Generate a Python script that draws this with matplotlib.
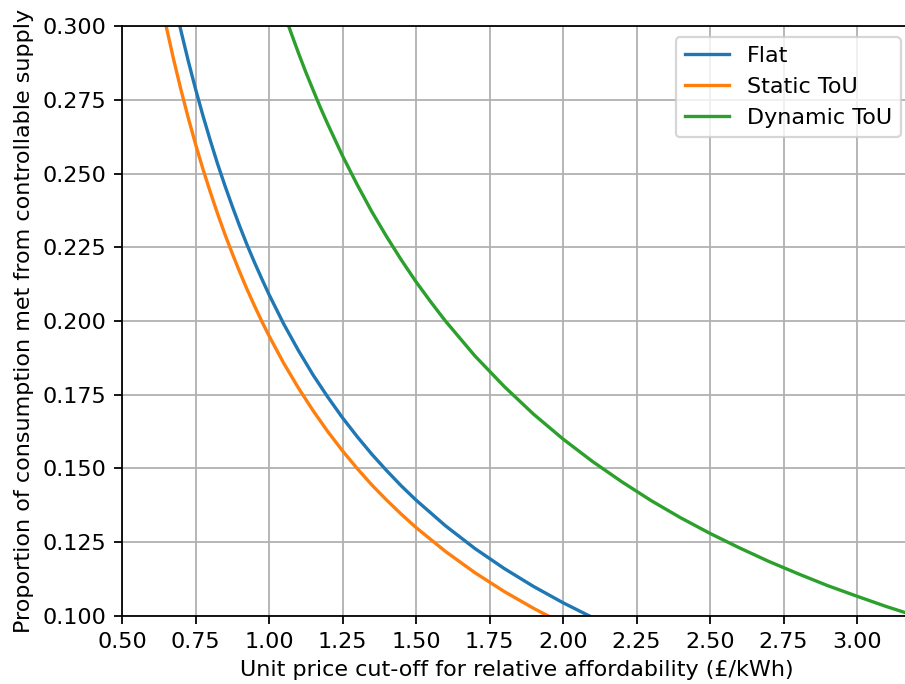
import matplotlib
matplotlib.use("Agg")
import matplotlib.pyplot as plt

# values
flat_x = [0.69, 0.70, 0.725, 0.75, 0.775, 0.80, 0.825, 0.85, 0.875, 0.90, 0.925, 0.95, 0.975, 1.00, 1.05, 1.10, 1.15,
          1.20, 1.25, 1.30, 1.35, 1.40, 1.45, 1.50, 1.60, 1.70, 1.80, 1.90, 2.00, 2.09]
flat_y = [0.3029, 0.2986, 0.2883, 0.2787, 0.2697, 0.2613, 0.2533, 0.2459, 0.2389, 0.2322, 0.2259, 0.2200, 0.2144,
          0.2090, 0.1990, 0.1900, 0.1817, 0.1742, 0.1672, 0.1608, 0.1548, 0.1493, 0.1441, 0.1393, 0.1306, 0.1229,
          0.1161, 0.1100, 0.1045, 0.1000]

static_x = [0.64, 0.65, 0.675, 0.70, 0.725, 0.75, 0.775, 0.80, 0.825, 0.85, 0.875, 0.90, 0.925, 0.95, 0.975, 1.00,
            1.05, 1.10, 1.15, 1.20, 1.25, 1.30, 1.35, 1.40, 1.45, 1.50, 1.60, 1.70, 1.80, 1.90, 1.95]
static_y = [0.3047, 0.3000, 0.2889, 0.2786, 0.2690, 0.2600, 0.2516, 0.2438, 0.2364, 0.2294, 0.2229, 0.2167, 0.2108,
            0.2053, 0.2000, 0.1950, 0.1857, 0.1773, 0.1696, 0.1625, 0.1560, 0.1500, 0.1444, 0.1393, 0.1345, 0.1300,
            0.1219, 0.1147, 0.1083, 0.1026, 0.1000]

dynamic_x = [1.05, 1.075, 1.10, 1.125, 1.15, 1.175, 1.20, 1.25, 1.30, 1.35, 1.40, 1.45, 1.50, 1.55, 1.60, 1.70, 1.80,
             1.90, 2.00, 2.10, 2.20, 2.30, 2.40, 2.50, 2.60, 2.70, 2.80, 2.90, 3.00, 3.10, 3.20]
dynamic_y = [0.3048, 0.2977, 0.2909, 0.2844, 0.2783, 0.2723, 0.2667, 0.2560, 0.2462, 0.2370, 0.2286, 0.2207, 0.2133,
             0.2065, 0.2000, 0.1882, 0.1778, 0.1684, 0.1600, 0.1524, 0.1455, 0.1391, 0.1333, 0.1280, 0.1231, 0.1185,
             0.1143, 0.1103, 0.1067, 0.1032, 0.1000]

W, H, dpi = 905, 684, 160
fig = plt.figure(figsize=(W / dpi, H / dpi), dpi=dpi)
ax = fig.add_axes([122 / W, (H - 616) / H, (912 - 122) / W, (616 - 26) / H])

ax.plot(flat_x, flat_y, label="Flat")
ax.plot(static_x, static_y, label="Static ToU")
ax.plot(dynamic_x, dynamic_y, label="Dynamic ToU")

ax.set_xlim(0.5, 3.187)
ax.set_ylim(0.1, 0.3)
ax.set_xticks([0.5, 0.75, 1.0, 1.25, 1.5, 1.75, 2.0, 2.25, 2.5, 2.75, 3.0])
ax.grid(True)
ax.set_xlabel("Unit price cut-off for relative affordability (£/kWh)")
ax.set_ylabel("Proportion of consumption met from controllable supply")
ax.legend(loc="upper right")

fig.savefig("out.png", dpi=dpi)
